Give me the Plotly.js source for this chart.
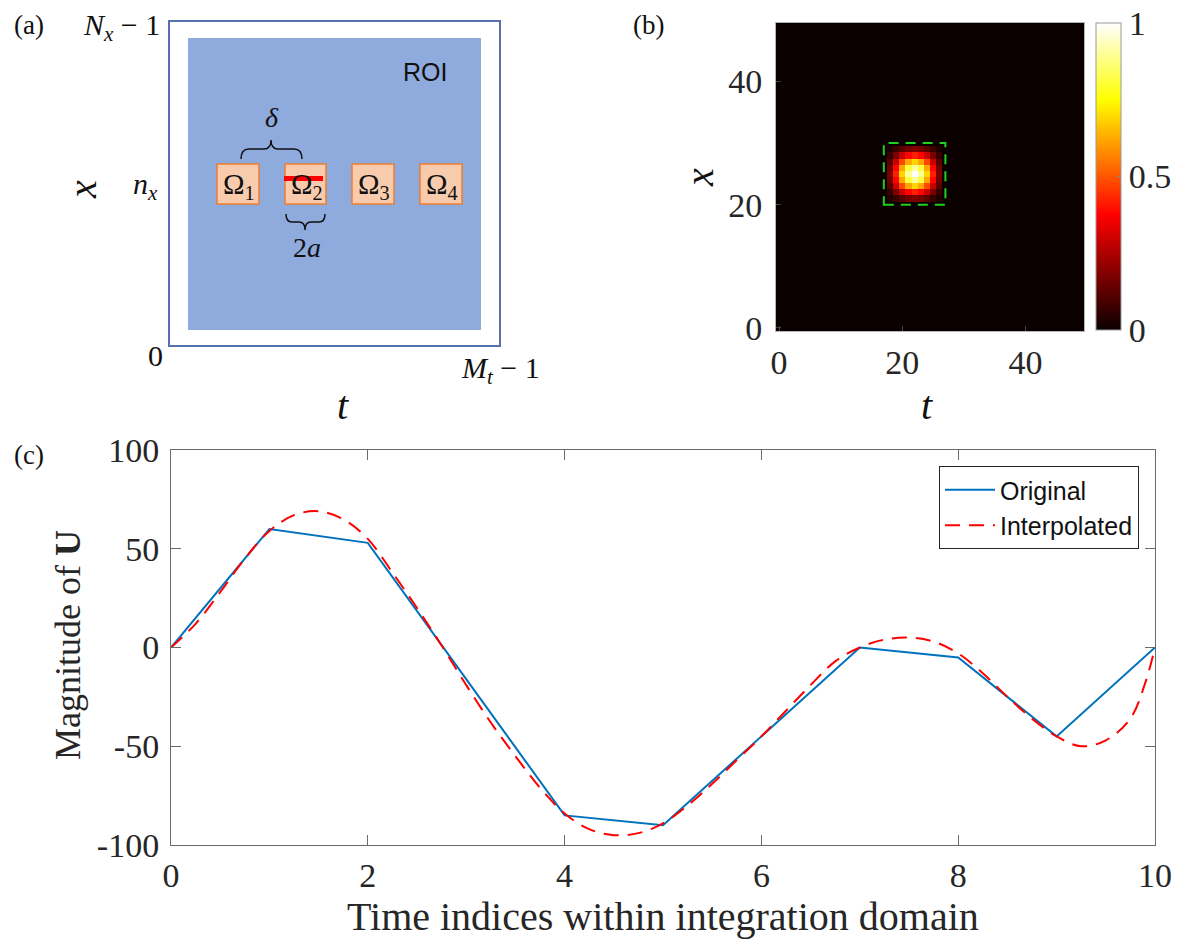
<!DOCTYPE html>
<html>
<head>
<meta charset="utf-8">
<script src="https://cdn.plot.ly/plotly-3.0.1.min.js"></script>
<style>html,body{margin:0;padding:0;background:#fff;}#chart{width:1181px;height:942px;}</style>
</head>
<body>
<div id="chart"></div>
<script>
// ---------- Panel (c) data ----------
const origX = [0, 1, 2, 3, 4, 5, 6, 7, 8, 9, 10];
const origY = [0, 60, 53, -16, -85, -90, -45, 0, -5, -45, 0];

const interpX = [0, 0.25, 0.5, 0.75, 1, 1.25, 1.5, 1.75, 2, 2.25, 2.5, 2.75, 3, 3.25, 3.5, 3.75, 4,
                 4.25, 4.5, 4.75, 5, 5.25, 5.5, 5.75, 6, 6.25, 6.5, 6.75, 7, 7.25, 7.5, 7.75, 8,
                 8.25, 8.5, 8.75, 9, 9.25, 9.5, 9.75, 9.9, 10];
const interpY = [0, 12, 28, 45, 59, 67, 69, 65, 55, 38, 20, 1, -19, -38, -55, -71, -84,
                 -92, -95, -94, -89, -80, -69, -57, -45, -32, -19, -7, 0, 4, 5, 3, -3,
                 -13, -25, -36, -45, -50, -47, -36, -18, 0];

const xTicksC = [0, 2, 4, 6, 8, 10];
const yTicksC = [-100, -50, 0, 50, 100];
const yTickTextC = ['-100', '-50', '0', '50', '100'];

// ---------- Panel (b) data ----------
const gridN = 50;
const blobT0 = 18;   // first t column of the bright spot
const blobX0 = 21;   // first x row of the bright spot
const blob = [
  [0.03, 0.07, 0.12, 0.16, 0.18, 0.16, 0.12, 0.07, 0.03],
  [0.07, 0.17, 0.29, 0.38, 0.42, 0.38, 0.29, 0.17, 0.07],
  [0.12, 0.29, 0.48, 0.62, 0.69, 0.62, 0.48, 0.29, 0.12],
  [0.16, 0.38, 0.62, 0.81, 0.90, 0.81, 0.62, 0.38, 0.16],
  [0.18, 0.42, 0.69, 0.90, 1.00, 0.90, 0.69, 0.42, 0.18],
  [0.16, 0.38, 0.62, 0.81, 0.90, 0.81, 0.62, 0.38, 0.16],
  [0.12, 0.29, 0.48, 0.62, 0.69, 0.62, 0.48, 0.29, 0.12],
  [0.07, 0.17, 0.29, 0.38, 0.42, 0.38, 0.29, 0.17, 0.07],
  [0.03, 0.07, 0.12, 0.16, 0.18, 0.16, 0.12, 0.07, 0.03]
];
const boxT = [17, 27];
const boxX = [20, 30];
const ticksB = [0, 20, 40];
const cbTicks = [0, 0.5, 1];
const cbTickText = ['0', '0.5', '1'];

// ---------- Panel (a) labels ----------
const omegaLabels = ['Ω<sub>1</sub>', 'Ω<sub>2</sub>', 'Ω<sub>3</sub>', 'Ω<sub>4</sub>'];

// ---------- build ----------
const W = 1181, H = 942;
const px = x => x / W;
const py = y => 1 - y / H;
const P = (x, y) => px(x).toFixed(5) + ',' + py(y).toFixed(5);

const zB = [];
const axB = [];
for (let i = 0; i < gridN; i++) axB.push(i);
for (let r = 0; r < gridN; r++) {
  const row = [];
  for (let c = 0; c < gridN; c++) row.push(0);
  zB.push(row);
}
for (let i = 0; i < blob.length; i++)
  for (let j = 0; j < blob[i].length; j++)
    zB[blobX0 + i][blobT0 + j] = blob[i][j];

const serif = 'Liberation Serif, Times New Roman, serif';
const sans = 'Liberation Sans, Arial, sans-serif';
const tc = '#262626';

const hot = [[0, '#0b0000'], [0.375, '#ff0000'], [0.75, '#ffff00'], [1, '#ffffff']];

const traces = [
  {
    type: 'heatmap', x: axB, y: axB, z: zB, xaxis: 'x2', yaxis: 'y2',
    colorscale: hot, zmin: 0, zmax: 1, showscale: true, hoverinfo: 'skip',
    colorbar: {
      x: px(1096), xanchor: 'left', y: py(23), yanchor: 'top',
      len: 307 / H, lenmode: 'fraction', thickness: 25, thicknessmode: 'pixels',
      outlinewidth: 1, outlinecolor: '#9a9a9a', xpad: 0, ypad: 0,
      tickvals: cbTicks, ticktext: cbTickText, ticks: 'inside', ticklen: 4,
      tickcolor: '#888', tickfont: {family: serif, size: 34, color: tc}
    }
  },
  {
    type: 'scatter', mode: 'lines', x: origX, y: origY, name: 'Original',
    line: {color: '#0072BD', width: 2}
  },
  {
    type: 'scatter', mode: 'lines', x: interpX, y: interpY, name: 'Interpolated',
    line: {color: '#FF0000', width: 2, dash: '15px,9px', shape: 'spline', smoothing: 1}
  }
];

const shapes = [];
// panel (a)
shapes.push({type: 'rect', xref: 'paper', yref: 'paper', x0: px(169), x1: px(500), y0: py(346), y1: py(21),
  line: {color: '#5571ad', width: 2}, fillcolor: 'rgba(0,0,0,0)'});
shapes.push({type: 'rect', xref: 'paper', yref: 'paper', x0: px(188), x1: px(481), y0: py(330), y1: py(38),
  line: {width: 0}, fillcolor: '#8faadc'});
const omegaX = [[217, 259], [285, 326], [352, 394], [420, 462]];
omegaX.forEach(b => shapes.push({type: 'rect', xref: 'paper', yref: 'paper', x0: px(b[0]), x1: px(b[1]),
  y0: py(204), y1: py(164), line: {color: '#ed7d31', width: 1.5}, fillcolor: '#f8cbad'}));
// braces
shapes.push({type: 'path', xref: 'paper', yref: 'paper', line: {color: '#111', width: 1.5},
  path: 'M' + P(241, 159) + ' Q' + P(241, 149) + ' ' + P(249, 149) + ' L' + P(264, 149) +
        ' Q' + P(271, 149) + ' ' + P(271, 140) + ' Q' + P(271, 149) + ' ' + P(278, 149) +
        ' L' + P(294, 149) + ' Q' + P(302, 149) + ' ' + P(302, 159)});
shapes.push({type: 'path', xref: 'paper', yref: 'paper', line: {color: '#111', width: 1.5},
  path: 'M' + P(286, 214) + ' Q' + P(286, 222) + ' ' + P(292, 222) + ' L' + P(299, 222) +
        ' Q' + P(305, 222) + ' ' + P(305, 230) + ' Q' + P(305, 222) + ' ' + P(311, 222) +
        ' L' + P(319, 222) + ' Q' + P(325, 222) + ' ' + P(325, 214)});
// panel (b) green box
shapes.push({type: 'rect', xref: 'x2', yref: 'y2', x0: boxT[0], x1: boxT[1], y0: boxX[0], y1: boxX[1],
  line: {color: '#1fd01f', width: 2, dash: '10px,7px'}, fillcolor: 'rgba(0,0,0,0)'});

const ann = [];
function A(text, x, y, size, opts) {
  ann.push(Object.assign({text: text, x: px(x), y: py(y), xref: 'paper', yref: 'paper', showarrow: false,
    xanchor: 'center', yanchor: 'middle', font: {family: serif, size: size, color: '#111'}}, opts || {}));
}
A('(a)', 29, 25, 27);
A('(b)', 648, 25, 27);
A('(c)', 29, 455, 27);
A('<i>N</i><sub><i>x</i></sub> − 1', 162, 27, 30, {xanchor: 'right'});
A('<i>n</i><sub><i>x</i></sub>', 145, 186, 30);
A('<i>x</i>', 83, 190, 40, {textangle: -90});
A('0', 155, 355, 30);
A('<i>M</i><sub><i>t</i></sub> − 1', 500, 370, 30);
A('<i>t</i>', 343, 405, 40);
A('ROI', 425, 72, 25, {font: {family: sans, size: 25, color: '#111'}});
A('<i>δ</i>', 272, 118, 28);
A('2<i>a</i>', 307, 248, 28);
omegaX.forEach((b, i) => A(omegaLabels[i], (b[0] + b[1]) / 2 + 1, 186, 29, {font: {family: serif, size: 29, color: '#111'}}));
A('<i>x</i>', 700, 178, 40, {textangle: -90});
A('<i>t</i>', 927, 405, 40);
A('Magnitude of <b>U</b>', 68, 645, 36, {textangle: -90, font: {family: serif, size: 36, color: tc}});
A('Time indices within integration domain', 663, 916, 40, {font: {family: serif, size: 40, color: tc}});
// red line drawn over Ω2 label
const redLine = {type: 'line', xref: 'paper', yref: 'paper', x0: px(284), x1: px(323), y0: py(178.5), y1: py(178.5),
  line: {color: '#ff0000', width: 5}, layer: 'above'};

const axisC = {showgrid: false, zeroline: false, showline: true, linecolor: '#6a6a6a', linewidth: 1,
  mirror: 'ticks', ticks: 'inside', ticklen: 10, tickcolor: '#6a6a6a', tickwidth: 1,
  tickfont: {family: serif, size: 34, color: tc}};
const axisB = {showgrid: false, zeroline: false, showline: true, linecolor: '#b5b5b5', linewidth: 1,
  mirror: true, ticks: 'inside', ticklen: 5, tickcolor: '#444', tickwidth: 1,
  tickfont: {family: serif, size: 34, color: tc}, range: [-0.5, 49.5], tickvals: ticksB};

const layout = {
  width: W, height: H, margin: {l: 0, r: 0, t: 0, b: 0}, paper_bgcolor: '#fff', plot_bgcolor: '#fff',
  showlegend: true,
  xaxis: Object.assign({}, axisC, {domain: [px(171), px(1155)], range: [0, 10], tickvals: xTicksC,
    anchor: 'y', ticklabelstandoff: 0}),
  yaxis: Object.assign({}, axisC, {domain: [py(845), py(450)], range: [-100, 100], tickvals: yTicksC,
    ticktext: yTickTextC, anchor: 'x', ticklabelstandoff: 4}),
  xaxis2: Object.assign({}, axisB, {domain: [px(776), px(1084)], anchor: 'y2', ticklabelstandoff: 1}),
  yaxis2: Object.assign({}, axisB, {domain: [py(331), py(23)], anchor: 'x2', ticklabelstandoff: 6}),
  legend: {x: px(1139), xanchor: 'right', y: py(466), yanchor: 'top', bgcolor: '#fff',
    bordercolor: '#262626', borderwidth: 1, font: {family: sans, size: 25, color: '#111'},
    tracegroupgap: 0, itemwidth: 50},
  shapes: shapes.concat([redLine]),
  annotations: ann
};

Plotly.newPlot('chart', traces, layout, {staticPlot: true, displayModeBar: false});
</script>
</body>
</html>
